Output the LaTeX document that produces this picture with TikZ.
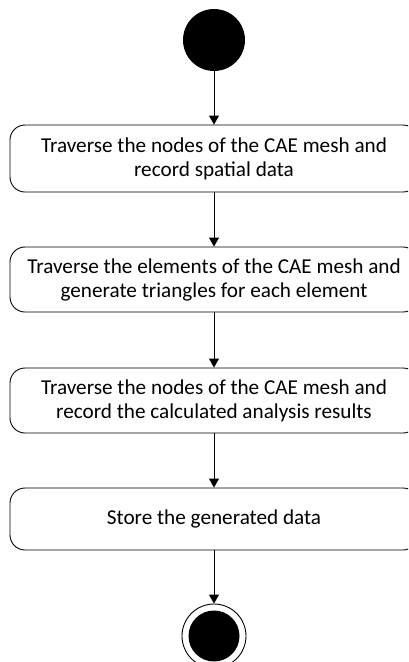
\documentclass[tikz,border=0pt]{standalone}
\usepackage{fontspec}
\setmainfont{Carlito}
\usetikzlibrary{arrows.meta}
\begin{document}
\begin{tikzpicture}[x=1pt,y=-1pt,
  actbox/.style={draw=black, line width=0.9pt, rounded corners=15pt, minimum width=408pt, align=center, inner sep=0pt, font=\fontsize{21.2}{24}\selectfont},
  flow/.style={draw=black, line width=0.9pt, -{Triangle[length=9pt,width=10pt]}},
  startdot/.style={circle, fill=black, minimum size=62pt, inner sep=0pt},
  enddot/.style={circle, fill=black, minimum size=51pt, inner sep=0pt},
  endring/.style={circle, draw=black, line width=0.9pt, minimum size=64pt, inner sep=0pt}]
\clip (0,0) rectangle (408,662);
\fill[white] (0,0) rectangle (408,662);
\node[startdot] (s) at (214,40) {};
\node[actbox, minimum height=67pt] (b1) at (214,158.5) {Traverse the nodes of the CAE mesh and\\record spatial data};
\node[actbox, minimum height=65pt] (b2) at (214,279.5) {Traverse the elements of the CAE mesh and\\generate triangles for each element};
\node[actbox, minimum height=65pt] (b3) at (214,400.5) {Traverse the nodes of the CAE mesh and\\record the calculated analysis results};
\node[actbox, minimum height=62pt] (b4) at (214,519) {Store the generated data};
\node[endring] (e) at (214,636) {};
\node[enddot] (ed) at (214,636) {};
\draw[flow] (s) -- (b1);
\draw[flow] (b1) -- (b2);
\draw[flow] (b2) -- (b3);
\draw[flow] (b3) -- (b4);
\draw[flow] (b4) -- (e);
\end{tikzpicture}
\end{document}
